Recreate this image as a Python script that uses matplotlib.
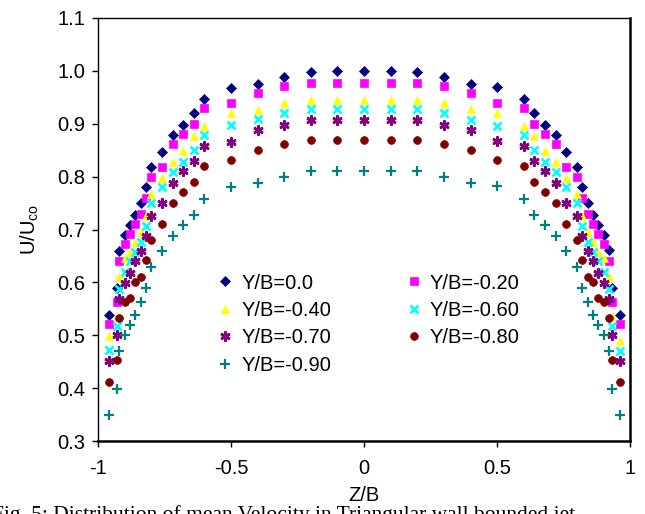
# Velocity distribution U/Uco across Z/B for several Y/B stations
import matplotlib
matplotlib.use('Agg')
import matplotlib.pyplot as plt

plt.rcParams['font.family'] = ['Liberation Sans', 'DejaVu Sans']

# Z/B stations (same for every series)
z = [-0.96, -0.93, -0.92, -0.90, -0.88, -0.86, -0.84, -0.82, -0.80, -0.76,
     -0.72, -0.68, -0.64, -0.60, -0.50, -0.40, -0.30, -0.20, -0.10, 0.00,
     0.10, 0.20, 0.30, 0.40, 0.50, 0.60, 0.64, 0.68, 0.72, 0.76,
     0.80, 0.82, 0.84, 0.86, 0.88, 0.90, 0.92, 0.93, 0.96]

# U/Uco for each Y/B station
yb_00 = [0.538, 0.589, 0.660, 0.690, 0.709, 0.727, 0.751, 0.781, 0.818, 0.846,
         0.879, 0.898, 0.920, 0.946, 0.968, 0.976, 0.989, 0.998, 1.000, 1.000,
         1.000, 0.998, 0.989, 0.976, 0.969, 0.946, 0.920, 0.898, 0.879, 0.847,
         0.819, 0.781, 0.751, 0.727, 0.709, 0.690, 0.662, 0.589, 0.538]
yb_20 = [0.521, 0.562, 0.641, 0.672, 0.691, 0.710, 0.729, 0.760, 0.800, 0.819,
         0.861, 0.880, 0.900, 0.929, 0.940, 0.959, 0.971, 0.978, 0.978, 0.978,
         0.978, 0.978, 0.971, 0.959, 0.940, 0.929, 0.900, 0.880, 0.861, 0.819,
         0.800, 0.760, 0.729, 0.710, 0.691, 0.672, 0.641, 0.562, 0.521]
yb_40 = [0.499, 0.537, 0.610, 0.647, 0.658, 0.676, 0.695, 0.726, 0.768, 0.798,
         0.828, 0.848, 0.877, 0.896, 0.920, 0.926, 0.939, 0.945, 0.945, 0.945,
         0.945, 0.945, 0.939, 0.927, 0.920, 0.896, 0.877, 0.848, 0.828, 0.798,
         0.768, 0.726, 0.695, 0.676, 0.658, 0.647, 0.610, 0.537, 0.490]
yb_60 = [0.472, 0.518, 0.587, 0.620, 0.641, 0.658, 0.676, 0.707, 0.750, 0.780,
         0.809, 0.828, 0.850, 0.878, 0.898, 0.909, 0.921, 0.927, 0.927, 0.927,
         0.927, 0.927, 0.921, 0.908, 0.896, 0.878, 0.850, 0.828, 0.809, 0.780,
         0.750, 0.707, 0.676, 0.658, 0.641, 0.620, 0.587, 0.518, 0.471]
yb_70 = [0.451, 0.500, 0.569, 0.599, 0.618, 0.641, 0.660, 0.688, 0.726, 0.750,
         0.787, 0.811, 0.830, 0.858, 0.866, 0.889, 0.897, 0.908, 0.908, 0.908,
         0.908, 0.908, 0.897, 0.889, 0.867, 0.858, 0.830, 0.811, 0.787, 0.750,
         0.726, 0.688, 0.660, 0.641, 0.618, 0.599, 0.569, 0.500, 0.451]
yb_80 = [0.411, 0.453, 0.533, 0.562, 0.570, 0.600, 0.611, 0.642, 0.680, 0.710,
         0.751, 0.770, 0.789, 0.820, 0.831, 0.850, 0.861, 0.869, 0.869, 0.869,
         0.869, 0.869, 0.861, 0.850, 0.831, 0.820, 0.789, 0.770, 0.751, 0.710,
         0.680, 0.642, 0.611, 0.600, 0.570, 0.562, 0.533, 0.453, 0.411]
yb_90 = [0.349, 0.398, 0.470, 0.500, 0.519, 0.538, 0.562, 0.589, 0.630, 0.660,
         0.688, 0.709, 0.727, 0.757, 0.781, 0.788, 0.799, 0.811, 0.811, 0.811,
         0.811, 0.811, 0.799, 0.788, 0.782, 0.757, 0.727, 0.709, 0.688, 0.660,
         0.630, 0.589, 0.562, 0.538, 0.519, 0.500, 0.470, 0.398, 0.349]

labels = ['Y/B=0.0', 'Y/B=-0.20', 'Y/B=-0.40', 'Y/B=-0.60',
          'Y/B=-0.70', 'Y/B=-0.80', 'Y/B=-0.90']

fig = plt.figure(figsize=(6.45, 5.14), dpi=100)
ax = fig.add_axes([0.152, 0.142, 0.825, 0.823])

# marker, colour, size, edge width
styles = [
    (yb_00, 'D', '#000080', 4.8, 0.5),
    (yb_20, 's', '#FF00FF', 5.2, 0.5),
    (yb_40, '^', '#FFFF00', 6.4, 0.5),
    (yb_60, 'x', '#00FFFF', 6.0, 1.9),
    (yb_70, (6, 2, 0), '#800080', 7.2, 1.9),
    (yb_80, 'o', '#800000', 5.6, 0.5),
    (yb_90, '+', '#008080', 6.6, 1.6),
]

handles = []
for (vals, mk, col, ms, mew), lab in zip(styles, labels):
    h, = ax.plot(z, vals, linestyle='none', marker=mk, color=col,
                 markersize=ms, markeredgewidth=mew, markeredgecolor=col,
                 label=lab, clip_on=False)
    handles.append(h)

ax.set_xlim(-1, 1)
ax.set_ylim(0.3, 1.1)
ax.set_xticks([-1, -0.5, 0, 0.5, 1])
ax.set_xticklabels(['-1', '-0.5', '0', '0.5', '1'])
ax.set_yticks([0.3, 0.4, 0.5, 0.6, 0.7, 0.8, 0.9, 1.0, 1.1])
ax.set_yticklabels(['0.3', '0.4', '0.5', '0.6', '0.7', '0.8', '0.9', '1.0', '1.1'])
ax.tick_params(direction='out', length=4, width=1, labelsize=14.5, color='black')
ax.tick_params(axis='x', pad=9)
ax.tick_params(axis='y', pad=5)

for side in ['left', 'top']:
    ax.spines[side].set_linewidth(1.0)
for side in ['right', 'bottom']:
    ax.spines[side].set_linewidth(1.8)

ax.set_xlabel('Z/B', fontsize=14.5, labelpad=6)
ax.set_ylabel(r'U/U$_\mathregular{co}$', fontsize=14.5, labelpad=12)

# legend: first column 0.0, -0.40, -0.70, -0.90 ; second -0.20, -0.60, -0.80
order = [0, 2, 4, 6, 1, 3, 5]
ax.legend([handles[i] for i in order], [labels[i] for i in order],
          ncol=2, frameon=False, fontsize=14.5, loc='upper left',
          bbox_to_anchor=(0.205, 0.415), handletextpad=0.3,
          columnspacing=3.6, labelspacing=0.42, handlelength=1.0,
          borderaxespad=0)

# figure caption along the bottom edge (cut by the page edge as in the source)
fig.text(-0.012, 0.017, 'Fig. 5: Distribution of mean Velocity in Triangular wall bounded jet',
         fontsize=15.5, family='Liberation Serif', va='top', ha='left')

fig.savefig('out.png', dpi=100)
